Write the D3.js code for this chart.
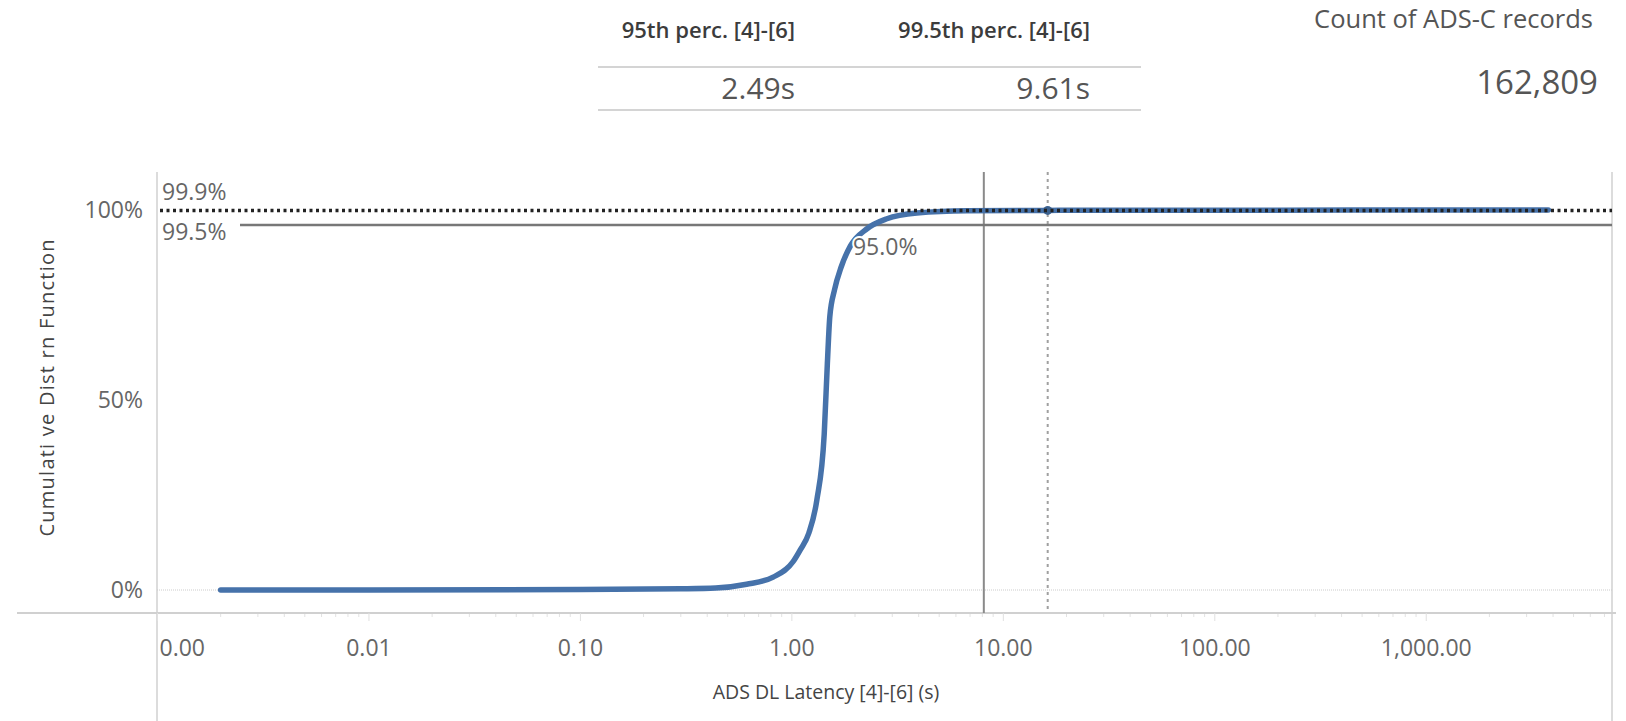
<!DOCTYPE html>
<html>
<head>
<meta charset="utf-8">
<script src="https://cdn.jsdelivr.net/npm/d3@7"></script>
<style>
  body { margin: 0; background: #fff; }
  text { font-family: "Open Sans", "Lato", sans-serif; }
</style>
</head>
<body>
<script>
var latency = [0.002, 0.01, 0.1, 0.3, 0.438, 0.614, 0.82, 1.02, 1.1, 1.21, 1.32, 1.43, 1.48, 1.52, 1.6, 1.72, 1.9, 2.27, 2.83, 3.92, 6.76, 16.3, 50, 200, 1000, 3800]
var cdf = [0, 0, 0.001, 0.003, 0.005, 0.015, 0.034, 0.075, 0.105, 0.15, 0.237, 0.41, 0.597, 0.72, 0.79, 0.85, 0.905, 0.95, 0.977, 0.992, 0.998, 0.999, 0.9993, 0.9996, 0.9998, 0.9999]

var xTicks = [0.001, 0.01, 0.1, 1, 10, 100, 1000]
var yTicks = [0, 0.5, 1]

var refLabels = ["99.9%", "99.5%"]
var refValues = [0.999, 0.9605]
var vLineValues = [8.13, 16.3]

var pctLabelValue = 2.49
var pctLabelCdf = 0.945

var tableHeaders = ["95th perc. [4]-[6]", "99.5th perc. [4]-[6]"]
var tableValues = ["2.49s", "9.61s"]
var countTitle = "Count of ADS-C records"
var countValue = "162,809"

var width = 1626,
    height = 721

var svg = d3.select("body")
  .append("svg")
  .attr("width", width)
  .attr("height", height)

var plotLeft = 157, plotRight = 1612, plotTop = 172, axisY = 613

var x = d3.scaleLog().domain([0.001, 7600]).range([plotLeft, plotRight])
var y = d3.scaleLinear().domain([0, 1]).range([590, 210])

// top summary table
var colRight = [795, 1090]
svg.selectAll(".th")
  .data(tableHeaders)
  .enter().append("text")
  .attr("x", function(d, i) { return colRight[i] })
  .attr("y", 38)
  .attr("text-anchor", "end")
  .attr("font-size", 22)
  .attr("font-weight", 600)
  .attr("fill", "#3c3c3c")
  .text(function(d) { return d })

svg.append("line").attr("x1", 598).attr("x2", 1141).attr("y1", 67).attr("y2", 67)
  .attr("stroke", "#d4d4d4").attr("stroke-width", 2)
svg.append("line").attr("x1", 598).attr("x2", 1141).attr("y1", 110).attr("y2", 110)
  .attr("stroke", "#d4d4d4").attr("stroke-width", 2)

svg.selectAll(".tv")
  .data(tableValues)
  .enter().append("text")
  .attr("x", function(d, i) { return colRight[i] })
  .attr("y", 99)
  .attr("text-anchor", "end")
  .attr("font-size", 30)
  .attr("fill", "#555")
  .text(function(d) { return d })

svg.append("text")
  .attr("x", 1593).attr("y", 28)
  .attr("text-anchor", "end")
  .attr("font-size", 25.5)
  .attr("fill", "#555")
  .text(countTitle)

svg.append("text")
  .attr("x", 1598).attr("y", 94)
  .attr("text-anchor", "end")
  .attr("font-size", 33)
  .attr("fill", "#555")
  .text(countValue)

// axes frame
svg.append("line").attr("x1", plotLeft).attr("x2", plotLeft).attr("y1", plotTop).attr("y2", height)
  .attr("stroke", "#d0d0d0").attr("stroke-width", 1.5)
svg.append("line").attr("x1", plotRight).attr("x2", plotRight).attr("y1", plotTop).attr("y2", height)
  .attr("stroke", "#d0d0d0").attr("stroke-width", 1.5)
svg.append("line").attr("x1", 17).attr("x2", plotRight + 4).attr("y1", axisY).attr("y2", axisY)
  .attr("stroke", "#d0d0d0").attr("stroke-width", 2)

// zero line
svg.append("line").attr("x1", plotLeft).attr("x2", plotRight).attr("y1", y(0)).attr("y2", y(0))
  .attr("stroke", "#ccc").attr("stroke-dasharray", "1,1")

// x ticks
var minor = []
xTicks.forEach(function(t) {
  for (var k = 2; k < 10; k++) {
    if (t * k < 7600) minor.push(t * k)
  }
})
svg.selectAll(".minor")
  .data(minor)
  .enter().append("line")
  .attr("x1", function(d) { return x(d) })
  .attr("x2", function(d) { return x(d) })
  .attr("y1", axisY + 1).attr("y2", axisY + 4)
  .attr("stroke", "#e2e2e2")

var xAxis = d3.axisBottom(x)
  .tickValues(xTicks)
  .tickFormat(d3.format(",.2f"))
  .tickSize(8)

var gx = svg.append("g")
  .attr("transform", "translate(0 " + axisY + ")")
  .call(xAxis)
gx.select(".domain").remove()
gx.selectAll(".tick line").attr("stroke", "#e0e0e0")
gx.selectAll(".tick text")
  .attr("font-size", 23)
  .attr("fill", "#666")
  .attr("font-family", "Open Sans, sans-serif")
  .attr("dy", 0)
  .attr("y", 43)
gx.selectAll(".tick").filter(function(d) { return d === 0.001 })
  .select("text").attr("text-anchor", "start").attr("x", 2)

var yAxis = d3.axisLeft(y)
  .tickValues(yTicks)
  .tickFormat(d3.format(".0%"))
  .tickSize(0)
var gy = svg.append("g")
  .attr("transform", "translate(" + (plotLeft - 11) + " 0)")
  .call(yAxis)
gy.select(".domain").remove()
gy.selectAll(".tick text")
  .attr("font-size", 23)
  .attr("fill", "#666")
  .attr("font-family", "Open Sans, sans-serif")

// titles
svg.append("text")
  .attr("transform", "translate(54 388) rotate(-90)")
  .attr("text-anchor", "middle")
  .attr("font-size", 20)
  .attr("fill", "#444")
  .attr("textLength", 297)
  .attr("lengthAdjust", "spacing")
  .text("Cumulati ve Dist rn Function")

svg.append("text")
  .attr("x", 826).attr("y", 699)
  .attr("text-anchor", "middle")
  .attr("font-size", 19.5)
  .attr("fill", "#444")
  .text("ADS DL Latency [4]-[6] (s)")

// reference lines
svg.append("line")
  .attr("x1", x(vLineValues[0])).attr("x2", x(vLineValues[0]))
  .attr("y1", plotTop).attr("y2", axisY)
  .attr("stroke", "#8a8a8a").attr("stroke-width", 2)
svg.append("line")
  .attr("x1", x(vLineValues[1])).attr("x2", x(vLineValues[1]))
  .attr("y1", plotTop).attr("y2", axisY)
  .attr("stroke", "#a0a0a0").attr("stroke-width", 2)
  .attr("stroke-dasharray", "3,4")

svg.append("line")
  .attr("x1", plotLeft + 83).attr("x2", plotRight)
  .attr("y1", y(refValues[1])).attr("y2", y(refValues[1]))
  .attr("stroke", "#777").attr("stroke-width", 2.5)

// curve
var line = d3.line()
  .x(function(d) { return x(d[0]) })
  .y(function(d) { return y(d[1]) })
  .curve(d3.curveMonotoneX)

svg.append("path")
  .datum(d3.zip(latency, cdf))
  .attr("d", line)
  .attr("fill", "none")
  .attr("stroke", "#4672aa")
  .attr("stroke-width", 5.5)
  .attr("stroke-linecap", "round")

svg.append("circle")
  .attr("cx", x(vLineValues[1]))
  .attr("cy", y(0.999))
  .attr("r", 4.5)
  .attr("fill", "#3b618f")

svg.append("line")
  .attr("x1", plotLeft + 3).attr("x2", plotRight)
  .attr("y1", y(refValues[0])).attr("y2", y(refValues[0]))
  .attr("stroke", "#222").attr("stroke-width", 3.5)
  .attr("stroke-dasharray", "3,3.5")

svg.append("text")
  .attr("x", plotLeft + 5).attr("y", y(refValues[0]) - 10)
  .attr("font-size", 23).attr("fill", "#666")
  .text(refLabels[0])
svg.append("text")
  .attr("x", plotLeft + 5).attr("y", y(refValues[1]) + 15)
  .attr("font-size", 23).attr("fill", "#666")
  .text(refLabels[1])

svg.append("text")
  .attr("x", x(pctLabelValue) + 10).attr("y", y(pctLabelCdf) + 24)
  .attr("text-anchor", "middle")
  .attr("font-size", 23).attr("fill", "#666")
  .attr("stroke", "#fff").attr("stroke-width", 4)
  .attr("paint-order", "stroke")
  .text("95.0%")
</script>
</body>
</html>
